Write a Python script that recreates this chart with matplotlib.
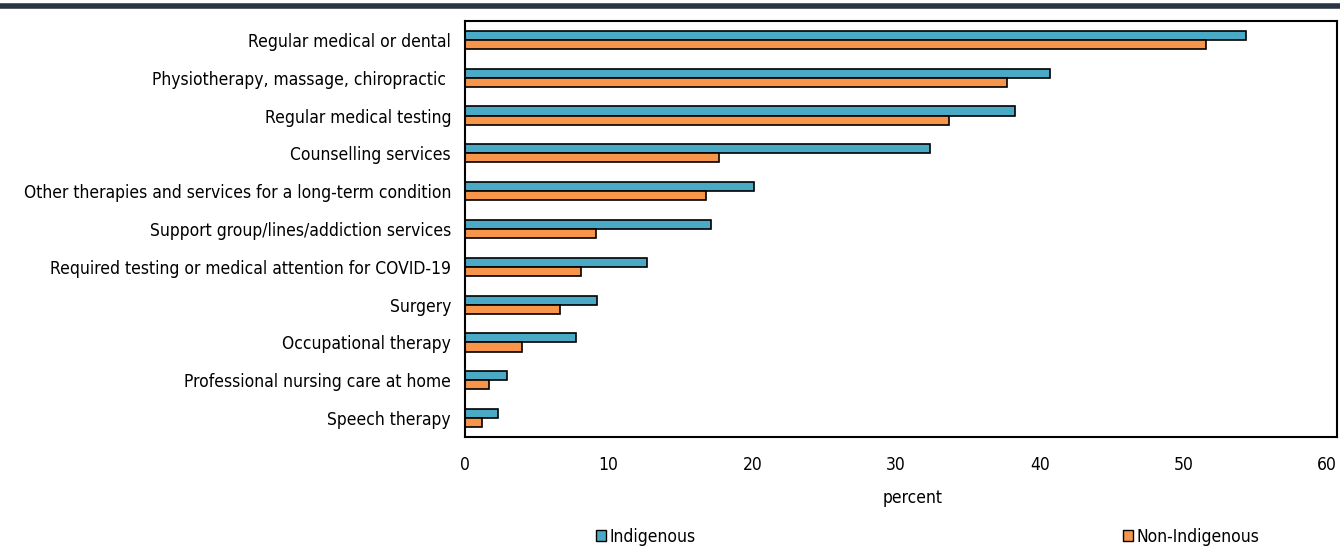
import matplotlib.pyplot as plt
import matplotlib.patches as mpatches
import numpy as np

plt.rcParams['font.family'] = ['DejaVu Sans']
plt.rcParams['font.stretch'] = 'condensed'

categories = ["Regular medical or dental",
              "Physiotherapy, massage, chiropractic ",
              "Regular medical testing",
              "Counselling services",
              "Other therapies and services for a long-term condition",
              "Support group/lines/addiction services",
              "Required testing or medical attention for COVID-19",
              "Surgery",
              "Occupational therapy",
              "Professional nursing care at home",
              "Speech therapy"]
indigenous = [54.4, 40.7, 38.3, 32.4, 20.1, 17.1, 12.7, 9.2, 7.7, 2.9, 2.3]
non_indigenous = [51.6, 37.7, 33.7, 17.7, 16.8, 9.1, 8.1, 6.6, 4.0, 1.7, 1.2]
xticks = [0, 10, 20, 30, 40, 50, 60]

blue = "#4aaac5"
orange = "#f7964a"

fig = plt.figure(figsize=(13.4, 5.46), dpi=100)
ax = fig.add_axes([465/1340, 1 - 437/546, (1337 - 465)/1340, (437 - 21)/546])

y = np.arange(len(categories))
h = 0.24
ax.barh(y - h/2, indigenous, height=h, color=blue, edgecolor="black", linewidth=1.2, label="Indigenous")
ax.barh(y + h/2, non_indigenous, height=h, color=orange, edgecolor="black", linewidth=1.2, label="Non-Indigenous")

ax.set_ylim(len(categories) - 0.5, -0.5)
ax.set_xlim(0, 60.7)
ax.set_yticks(y)
ax.set_yticklabels(categories, fontsize=12.5)
ax.set_xticks(xticks)
ax.set_xticklabels([str(t) for t in xticks], fontsize=12.5)
ax.tick_params(length=0, pad=10)
ax.tick_params(axis='x', pad=14)
for s in ax.spines.values():
    s.set_linewidth(1.5)

ax.set_xlabel("percent", fontsize=12.5)
ax.xaxis.set_label_coords((913 - 465)/(1337 - 465), -0.125)

# dark rule across the top
fig.add_artist(plt.Line2D([0, 1], [1 - 6/546, 1 - 6/546], color="#2b3542", linewidth=4,
                          transform=fig.transFigure))

h1 = mpatches.Patch(facecolor=blue, edgecolor="black", linewidth=1)
h2 = mpatches.Patch(facecolor=orange, edgecolor="black", linewidth=1)
leg_kw = dict(frameon=False, fontsize=12.5, handlelength=0.6, handleheight=0.6, handletextpad=0.2,
              borderpad=0, borderaxespad=0, loc="center left")
fig.legend([h1], ["Indigenous"], bbox_to_anchor=(596/1340, 1 - 537/546), **leg_kw)
fig.legend([h2], ["Non-Indigenous"], bbox_to_anchor=(1123/1340, 1 - 537/546), **leg_kw)

fig.savefig("out.png", dpi=100)
